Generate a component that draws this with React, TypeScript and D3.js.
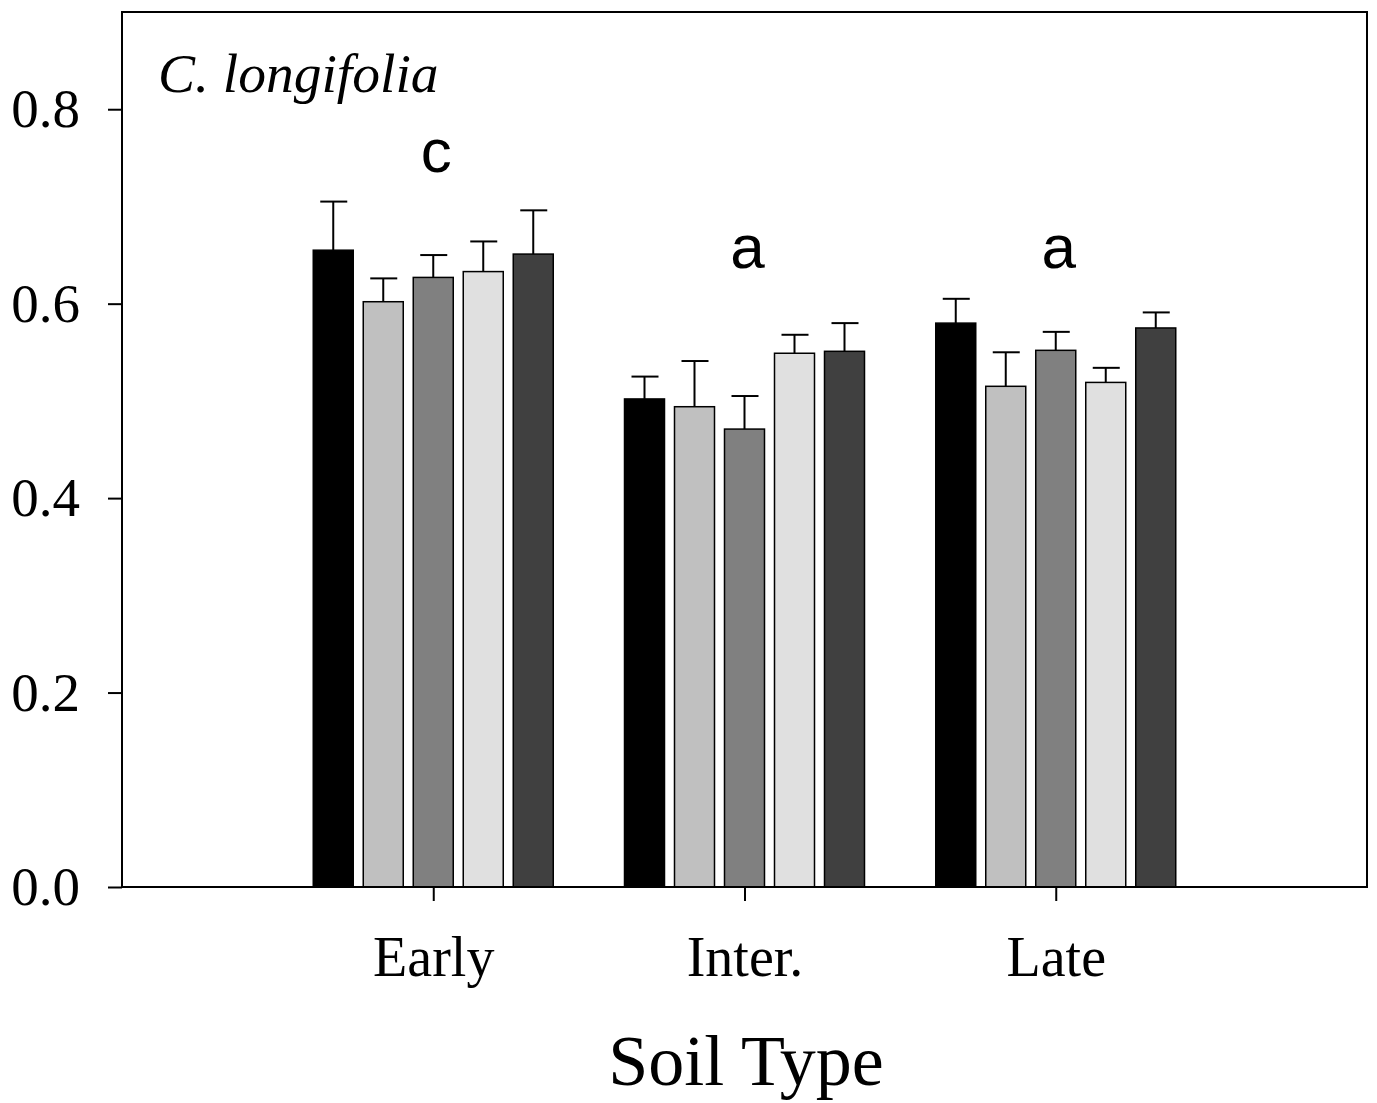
import React, { useEffect, useRef } from 'react';
import * as d3 from 'd3';

const soilTypes = ['Early', 'Inter.', 'Late'];
const seriesColors = ['#000000', '#c0c0c0', '#808080', '#e0e0e0', '#404040'];
// mean per soil type, one array per series
const means = [
  [0.655, 0.502, 0.580],
  [0.602, 0.494, 0.515],
  [0.627, 0.471, 0.552],
  [0.633, 0.549, 0.519],
  [0.651, 0.551, 0.575],
];
const errors = [
  [0.050, 0.023, 0.025],
  [0.024, 0.047, 0.035],
  [0.023, 0.034, 0.019],
  [0.031, 0.019, 0.015],
  [0.045, 0.029, 0.016],
];
const letters = ['c', 'a', 'a'];
const letterValues = [0.735, 0.637, 0.637];
const yTicks = [0, 0.2, 0.4, 0.6, 0.8];

const serif = '"Liberation Serif", "Times New Roman", serif';

const App = () => {
  const svgRef = useRef<SVGSVGElement>(null);

  useEffect(() => {
    const width = 1377;
    const height = 1103;
    const left = 122, right = 1367, top = 12, bottom = 887;
    const svg = d3.select(svgRef.current);
    svg.selectAll('*').remove();
    svg.attr('width', width).attr('height', height);

    const x = d3.scaleLinear().domain([0, soilTypes.length + 1]).range([left, right]);
    const y = d3.scaleLinear().domain([0, 0.9]).range([bottom, top]);
    const barW = 40;
    const step = 50;

    // bars + error bars
    means.forEach((series, s) => {
      series.forEach((v, i) => {
        const cx = x(i + 1) + (s - 2) * step;
        const errTop = y(v + errors[s][i]);
        svg.append('line')
          .attr('x1', cx).attr('x2', cx)
          .attr('y1', y(v)).attr('y2', errTop)
          .attr('stroke', '#000').attr('stroke-width', 2);
        svg.append('line')
          .attr('x1', cx - 13).attr('x2', cx + 14)
          .attr('y1', errTop).attr('y2', errTop)
          .attr('stroke', '#000').attr('stroke-width', 2);
        svg.append('rect')
          .attr('x', cx - barW / 2)
          .attr('y', y(v))
          .attr('width', barW)
          .attr('height', y(0) - y(v))
          .attr('fill', seriesColors[s])
          .attr('stroke', '#000')
          .attr('stroke-width', 1.5);
      });
    });

    // frame
    svg.append('rect')
      .attr('x', left).attr('y', top)
      .attr('width', right - left).attr('height', bottom - top)
      .attr('fill', 'none').attr('stroke', '#000').attr('stroke-width', 2);

    // y axis
    const yAxis = svg.append('g')
      .attr('transform', `translate(${left},0)`)
      .call(d3.axisLeft(y).tickValues(yTicks).tickFormat(d3.format('.1f')).tickSize(14).tickPadding(28));
    yAxis.select('.domain').remove();
    yAxis.selectAll('line').attr('stroke-width', 2);
    yAxis.selectAll('text')
      .attr('font-family', serif)
      .attr('font-size', 55)
      .attr('fill', '#000');

    // x axis
    const xAxis = svg.append('g')
      .attr('transform', `translate(0,${bottom})`)
      .call(d3.axisBottom(x)
        .tickValues(soilTypes.map((_, i) => i + 1))
        .tickFormat((d: any) => soilTypes[d - 1])
        .tickSize(14).tickPadding(35));
    xAxis.select('.domain').remove();
    xAxis.selectAll('line').attr('stroke-width', 2);
    xAxis.selectAll('text')
      .attr('font-family', serif)
      .attr('font-size', 56)
      .attr('fill', '#000');

    // significance letters
    letters.forEach((l, i) => {
      svg.append('text')
        .attr('x', x(i + 1) + 3)
        .attr('y', y(letterValues[i]))
        .attr('text-anchor', 'middle')
        .attr('font-family', '"Liberation Sans", Arial, sans-serif')
        .attr('font-size', 62)
        .text(l);
    });

    // species label
    svg.append('text')
      .attr('x', 158).attr('y', 92)
      .attr('font-family', serif)
      .attr('font-style', 'italic')
      .attr('font-size', 55.5)
      .text('C. longifolia');

    // x title
    svg.append('text')
      .attr('x', 746)
      .attr('y', 1085)
      .attr('text-anchor', 'middle')
      .attr('font-family', serif)
      .attr('font-size', 72)
      .text('Soil Type');
  }, []);

  return (
    <div style={{ position: 'absolute', top: 0, left: 0, background: '#fff' }}>
      <svg ref={svgRef} style={{ display: 'block' }}></svg>
    </div>
  );
};

export default App;
